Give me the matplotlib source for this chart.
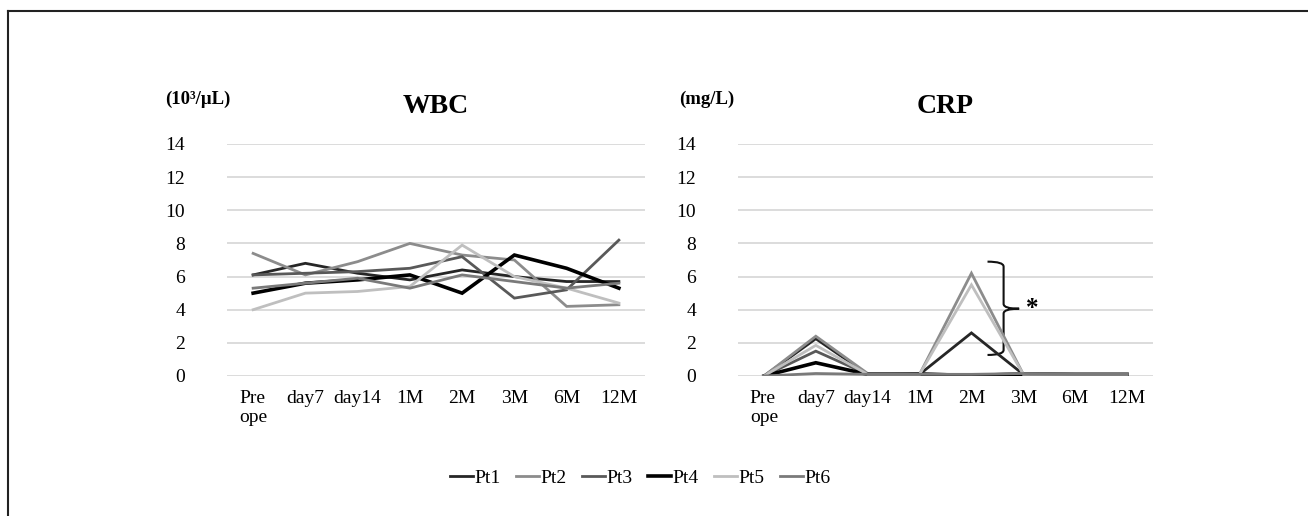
import numpy as np
import matplotlib
matplotlib.use("Agg")
import matplotlib.pyplot as plt
from matplotlib.path import Path
from matplotlib.patches import PathPatch
from matplotlib.lines import Line2D

# categories
timepoints = ["Pre\nope", "day7", "day14", "1M", "2M", "3M", "6M", "12M"]
patients = ["Pt1", "Pt2", "Pt3", "Pt4", "Pt5", "Pt6"]

# WBC (10^3/uL)
wbc_pt1 = [6.1, 6.8, 6.2, 5.8, 6.4, 6.0, 5.7, 5.7]
wbc_pt2 = [7.4, 6.1, 6.9, 8.0, 7.3, 7.0, 4.2, 4.3]
wbc_pt3 = [6.1, 6.2, 6.3, 6.5, 7.2, 4.7, 5.2, 8.2]
wbc_pt4 = [5.0, 5.6, 5.8, 6.1, 5.0, 7.3, 6.5, 5.3]
wbc_pt5 = [4.0, 5.0, 5.1, 5.4, 7.9, 6.0, 5.3, 4.4]
wbc_pt6 = [5.3, 5.6, 5.9, 5.3, 6.1, 5.7, 5.3, 5.6]

# CRP (mg/L)
crp_pt1 = [0.0, 2.25, 0.1, 0.1, 2.6, 0.1, 0.1, 0.1]
crp_pt2 = [0.0, 2.4, 0.15, 0.1, 6.2, 0.1, 0.1, 0.1]
crp_pt3 = [0.0, 1.5, 0.1, 0.15, 0.05, 0.15, 0.1, 0.1]
crp_pt4 = [0.0, 0.8, 0.1, 0.1, 0.05, 0.1, 0.1, 0.1]
crp_pt5 = [0.0, 1.85, 0.1, 0.1, 5.5, 0.1, 0.1, 0.1]
crp_pt6 = [0.0, 0.15, 0.1, 0.1, 0.1, 0.15, 0.1, 0.1]

wbc = [wbc_pt1, wbc_pt2, wbc_pt3, wbc_pt4, wbc_pt5, wbc_pt6]
crp = [crp_pt1, crp_pt2, crp_pt3, crp_pt4, crp_pt5, crp_pt6]

colors = ["#262626", "#8c8c8c", "#595959", "#000000", "#bfbfbf", "#7a7a7a"]
widths = [2.0, 2.0, 2.0, 2.6, 2.0, 2.0]

plt.rcParams["font.family"] = ["Liberation Serif", "DejaVu Serif"]

fig = plt.figure(figsize=(13.08, 5.16), dpi=100)

# frame (top and left edge only visible)
fig.add_artist(Line2D([8 / 1308, 8 / 1308], [0, 1 - 11 / 516], transform=fig.transFigure,
                      color="#222222", lw=1.5))
fig.add_artist(Line2D([8 / 1308, 1], [1 - 11 / 516, 1 - 11 / 516], transform=fig.transFigure,
                      color="#222222", lw=1.5))

ax1 = fig.add_axes([227 / 1308, 1 - 376 / 516, 418 / 1308, 232 / 516])
ax2 = fig.add_axes([738 / 1308, 1 - 376 / 516, 415 / 1308, 232 / 516])

x = np.arange(len(timepoints))
for ax, data, title, unit, cx in [(ax1, wbc, "WBC", "(10\u00b3/\u03bcL)", 165),
                                  (ax2, crp, "CRP", "(mg/L)", 679)]:
    for vals, c, w, name in zip(data, colors, widths, patients):
        ax.plot(x, vals, color=c, lw=w, label=name, solid_joinstyle="miter")
    ax.set_xlim(-0.5, len(timepoints) - 0.5)
    ax.set_ylim(0, 14)
    ax.set_yticks(np.arange(0, 15, 2))
    ax.set_xticks(x)
    ax.set_xticklabels(timepoints, multialignment="left")
    ax.grid(axis="y", color="#d9d9d9", lw=1.3)
    ax.set_axisbelow(True)
    for s in ax.spines.values():
        s.set_visible(False)
    ax.tick_params(axis="both", length=0, labelsize=14)
    ax.tick_params(axis="y", pad=30)
    ax.tick_params(axis="x", pad=10)
    ax.set_title(title, fontsize=20, fontweight="bold", pad=22)
    fig.text(cx / 1308, 1 - 104 / 516, unit, fontsize=13.5, fontweight="bold",
             ha="left", va="baseline")

# brace and asterisk on CRP panel
verts = [(4.31, 6.9), (4.62, 6.9), (4.62, 6.6),
         (4.62, 4.35), (4.62, 4.06), (4.92, 4.06),
         (4.62, 4.06), (4.62, 3.77),
         (4.62, 1.57), (4.62, 1.27), (4.31, 1.27)]
codes = [Path.MOVETO, Path.CURVE3, Path.CURVE3,
         Path.LINETO, Path.CURVE3, Path.CURVE3,
         Path.CURVE3, Path.CURVE3,
         Path.LINETO, Path.CURVE3, Path.CURVE3]
ax2.add_patch(PathPatch(Path(verts, codes), fill=False, color="#111111", lw=1.5))
ax2.text(5.17, 4.1, "*", fontsize=18, fontweight="bold", ha="center", va="center")

handles, labels = ax1.get_legend_handles_labels()
fig.legend(handles, labels, loc="center", bbox_to_anchor=(640 / 1308, 1 - 478 / 516),
           ncol=6, frameon=False, fontsize=14, handlelength=1.2, handletextpad=0.05,
           columnspacing=0.8)

fig.savefig("out.png", dpi=100, facecolor="white")
